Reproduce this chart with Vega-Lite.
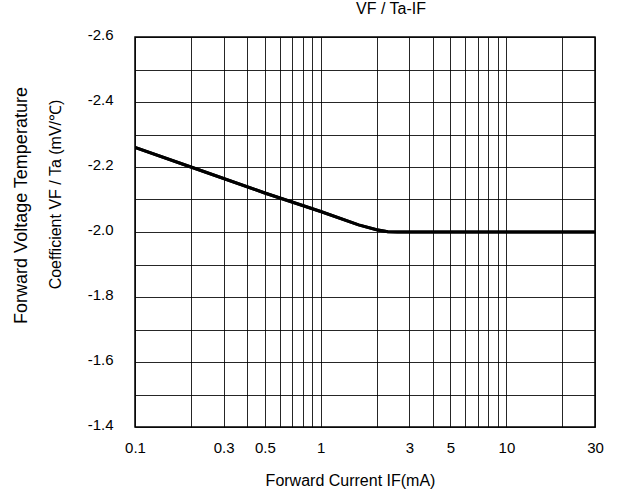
{
  "$schema": "https://vega.github.io/schema/vega-lite/v6.json",
  "autosize": {"type": "none"},
  "width": 460,
  "height": 390,
  "padding": {"left": 135, "top": 37, "right": 22, "bottom": 65},
  "background": "white",
  "config": {
    "font": "Liberation Sans",
    "view": {"stroke": "#000", "strokeWidth": 1.5}
  },
  "title": {
    "text": "VF / Ta-IF",
    "fontSize": 16,
    "fontWeight": "normal",
    "font": "Liberation Sans",
    "color": "#000",
    "anchor": "middle",
    "dx": 26,
    "offset": 10
  },
  "data": {
    "values": [
      {"IF": 0.1, "coef": -2.26},
      {"IF": 0.2, "coef": -2.2},
      {"IF": 0.5, "coef": -2.12},
      {"IF": 1.0, "coef": -2.063},
      {"IF": 1.6, "coef": -2.022},
      {"IF": 2.0, "coef": -2.007},
      {"IF": 2.3, "coef": -2.001},
      {"IF": 2.6, "coef": -2.0},
      {"IF": 30, "coef": -2.0}
    ]
  },
  "resolve": {"axis": {"y": "independent"}},
  "layer": [
    {
      "mark": {"type": "line", "color": "#000", "strokeWidth": 3, "clip": true},
      "encoding": {
        "x": {
          "field": "IF",
          "type": "quantitative",
          "scale": {"type": "log", "domain": [0.1, 30], "nice": false},
          "axis": {
            "title": "Forward Current IF(mA)",
            "titleFont": "Liberation Sans",
            "titleFontSize": 16,
            "titleFontWeight": "normal",
            "titleColor": "#000",
            "titlePadding": 17,
            "titleX": 215,
            "values": [0.1,0.2,0.3,0.4,0.5,0.6,0.7,0.8,0.9,1,2,3,4,5,6,7,8,9,10,20,30],
            "labelExpr": "(datum.value == 0.1 || datum.value == 0.3 || datum.value == 0.5 || datum.value == 1 || datum.value == 3 || datum.value == 5 || datum.value == 10 || datum.value == 30) ? datum.label : ''",
            "labelFontSize": 15,
            "labelColor": "#000",
            "labelPadding": 13,
            "labelFlush": false,
            "labelOverlap": false,
            "ticks": false,
            "domain": false,
            "grid": true,
            "gridColor": "#000",
            "gridWidth": 1,
            "gridOpacity": 0.85
          }
        },
        "y": {
          "field": "coef",
          "type": "quantitative",
          "scale": {"domain": [-2.6, -1.4], "reverse": true, "nice": false, "zero": false},
          "axis": {
            "orient": "left",
            "title": "Coefficient VF / Ta (mV/℃)",
            "titleFont": "Liberation Sans",
            "titleFontSize": 16,
            "titleFontWeight": "normal",
            "titleColor": "#000",
            "titlePadding": 24,
            "titleY": 157,
            "values": [-2.6,-2.5,-2.4,-2.3,-2.2,-2.1,-2.0,-1.9,-1.8,-1.7,-1.6,-1.5,-1.4],
            "labelExpr": "abs(round(datum.value*10)) % 2 == 0 ? '-' + format(abs(datum.value), '.1f') : ''",
            "labelFontSize": 15,
            "labelColor": "#000",
            "labelPadding": 22,
            "labelOffset": -3,
            "labelOverlap": false,
            "ticks": false,
            "domain": false,
            "grid": true,
            "gridColor": "#000",
            "gridWidth": 1,
            "gridOpacity": 0.85
          }
        }
      }
    },
    {
      "mark": {"type": "line", "color": "#000", "strokeWidth": 3, "clip": true},
      "encoding": {
        "x": {"field": "IF", "type": "quantitative"},
        "y": {
          "field": "coef",
          "type": "quantitative",
          "axis": {
            "orient": "left",
            "title": "Forward Voltage Temperature",
            "titleFont": "Liberation Sans",
            "titleFontSize": 18,
            "titleFontWeight": "normal",
            "titleColor": "#000",
            "titlePadding": 0,
            "titleY": 168,
            "offset": 105,
            "labels": false,
            "ticks": false,
            "domain": false,
            "grid": false
          }
        }
      }
    }
  ]
}
